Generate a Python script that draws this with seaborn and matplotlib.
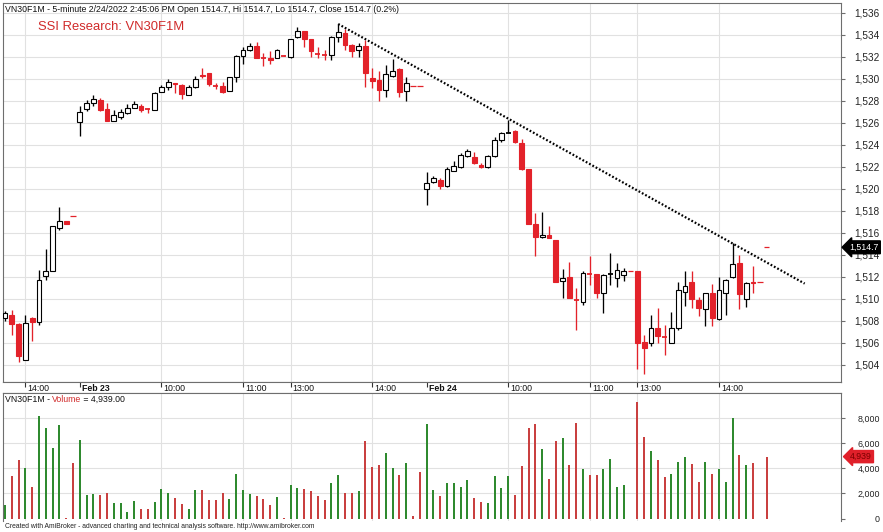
import numpy as np
import pandas as pd
import matplotlib
matplotlib.use("Agg")
import matplotlib.pyplot as plt
import seaborn as sns

# ---------------- data ----------------
opens = [1508.25, 1508.55, 1507.75, 1504.45, 1508.3, 1507.9, 1512.05, 1512.55, 1516.45, 1517.05, 1517.55,
         1526.1, 1527.25, 1527.8, 1528.1, 1527.3, 1526.2, 1526.5, 1526.9, 1527.4, 1527.5, 1527.3, 1527.2, 1528.85,
         1529.25, 1529.6, 1529.45, 1528.55, 1529.25, 1530.35, 1530.5, 1529.4, 1529.35, 1528.95, 1530.15, 1532.1,
         1532.6, 1533.0, 1531.97, 1531.95, 1531.95, 1532.15, 1532.0, 1533.8, 1534.35, 1533.6, 1532.35, 1532.25,
         1532.2, 1533.85, 1534.15, 1533.1, 1532.6, 1533.0, 1530.1, 1529.9, 1529.0, 1530.25, 1530.9, 1528.95,
         1529.4, 1529.4,
         1519.97, 1520.67, 1520.8, 1520.27, 1521.66, 1521.97, 1523.0, 1522.94, 1522.18, 1521.97, 1523.0, 1524.45,
         1525.1, 1525.3, 1524.15, 1521.8, 1516.8, 1515.6, 1515.8, 1515.36, 1511.6, 1512.03, 1510.0, 1509.75,
         1512.35, 1512.24, 1510.5, 1512.2, 1511.88, 1512.2, 1512.55, 1512.57, 1506.1, 1506.0, 1507.4, 1506.55,
         1506.0, 1507.33, 1510.65, 1511.57, 1509.9, 1509.05, 1510.5, 1508.15, 1510.57, 1511.97, 1513.3, 1509.97,
         1511.57, 1511.57, 1514.7]
highs = [1508.95, 1509.0, 1507.8, 1508.55, 1508.4, 1512.6, 1514.5, 1516.6, 1518.35, 1517.05, 1517.55,
         1527.5, 1528.1, 1528.5, 1528.3, 1527.85, 1527.2, 1527.3, 1527.7, 1528.0, 1527.75, 1527.35, 1528.85, 1529.45,
         1530.0, 1529.65, 1529.5, 1529.45, 1530.3, 1531.0, 1530.55, 1529.6, 1529.7, 1530.2, 1532.15, 1532.95,
         1533.3, 1533.4, 1532.4, 1532.5, 1532.7, 1532.15, 1533.65, 1534.75, 1534.4, 1533.6, 1532.9, 1532.6,
         1533.9, 1535.0, 1534.5, 1533.15, 1533.25, 1533.55, 1531.0, 1530.75, 1531.3, 1531.8, 1531.0, 1530.2,
         1529.4, 1529.4,
         1521.57, 1521.2, 1521.0, 1522.03, 1522.5, 1523.25, 1523.6, 1523.4, 1522.35, 1523.05, 1524.7, 1525.15,
         1526.3, 1525.35, 1524.5, 1521.8, 1517.8, 1517.94, 1516.6, 1515.36, 1512.7, 1513.4, 1511.0, 1512.5,
         1513.9, 1512.3, 1512.25, 1514.15, 1513.24, 1512.8, 1512.55, 1512.57, 1506.7, 1508.5, 1509.2, 1507.65,
         1508.8, 1511.57, 1512.55, 1512.5, 1510.2, 1510.55, 1511.36, 1511.97, 1511.8, 1515.06, 1514.0, 1511.55,
         1513.0, 1511.57, 1514.7]
lows = [1508.0, 1506.7, 1504.3, 1504.45, 1506.2, 1507.6, 1511.7, 1512.5, 1516.3, 1516.85, 1517.55,
        1524.8, 1527.1, 1527.5, 1527.1, 1526.15, 1526.15, 1526.4, 1526.85, 1527.35, 1527.0, 1526.9, 1527.15, 1528.8,
        1529.0, 1528.7, 1528.2, 1528.5, 1529.2, 1530.05, 1529.35, 1529.1, 1528.75, 1528.9, 1529.7, 1531.4,
        1532.5, 1531.9, 1531.2, 1531.4, 1531.9, 1532.1, 1531.95, 1533.75, 1532.9, 1532.0, 1531.95, 1531.7,
        1531.7, 1533.4, 1532.6, 1532.0, 1532.0, 1529.3, 1529.15, 1528.0, 1528.35, 1530.2, 1528.35, 1528.0,
        1529.4, 1529.4,
        1518.55, 1520.5, 1519.97, 1520.2, 1521.6, 1521.9, 1522.95, 1522.3, 1521.95, 1521.95, 1522.95, 1524.25,
        1525.05, 1524.2, 1521.75, 1516.8, 1513.9, 1515.55, 1515.5, 1511.55, 1510.06, 1510.1, 1507.2, 1509.45,
        1511.27, 1510.06, 1508.7, 1511.3, 1511.1, 1511.6, 1512.55, 1503.6, 1503.15, 1505.7, 1506.0, 1504.9,
        1506.0, 1507.2, 1509.4, 1509.15, 1508.45, 1507.5, 1507.5, 1508.1, 1508.55, 1511.9, 1509.05, 1509.25,
        1510.57, 1511.57, 1514.7]
closes = [1508.7, 1507.75, 1504.8, 1507.85, 1507.9, 1511.7, 1512.55, 1516.6, 1517.05, 1516.85, 1517.55,
          1527.0, 1527.8, 1528.15, 1527.2, 1526.2, 1526.7, 1527.0, 1527.4, 1527.7, 1527.2, 1527.25, 1528.7, 1529.25,
          1529.75, 1529.5, 1528.65, 1529.25, 1530.0, 1530.25, 1529.55, 1529.35, 1528.85, 1530.15, 1532.1, 1532.6,
          1533.0, 1531.95, 1531.93, 1531.75, 1532.65, 1532.1, 1533.6, 1534.35, 1533.6, 1532.5, 1532.3, 1532.2,
          1533.85, 1534.25, 1533.1, 1532.5, 1533.0, 1530.5, 1529.8, 1529.0, 1530.45, 1530.7, 1528.85, 1529.6,
          1529.4, 1529.4,
          1520.57, 1520.97, 1520.27, 1521.8, 1522.1, 1523.1, 1523.45, 1522.34, 1522.03, 1523.0, 1524.45, 1525.1,
          1525.1, 1524.3, 1521.8, 1516.8, 1515.6, 1515.8, 1515.55, 1511.57, 1511.94, 1510.12, 1509.95, 1512.4,
          1512.3, 1510.5, 1512.2, 1512.25, 1512.6, 1512.57, 1512.55, 1506.0, 1505.5, 1507.4, 1506.6, 1506.5,
          1507.33, 1510.8, 1511.15, 1509.97, 1509.15, 1510.5, 1508.25, 1510.8, 1511.73, 1513.2, 1510.45, 1511.43,
          1511.43, 1511.57, 1514.7]
volumes = [1100, 3400, 4700, 4000, 2500, 8200, 7200, 5600, 7450, 50, 4400,
           6250, 1900, 1950, 1900, 2070, 1260, 1260, 540, 1400, 780, 720, 1340, 2340, 2070, 1620, 1180, 780,
           2260, 2260, 1450, 1450, 2020, 1530, 3550, 2290, 1990, 1780, 1590, 1070, 1750, 30, 2690, 2400,
           2340, 2210, 1800, 1480, 2800, 3470, 2070, 2070, 2210, 6170, 4090, 4230, 5200, 4040, 3450, 4410,
           200, 3690,
           7540, 2260, 1800, 2850, 2830, 2480, 3100, 1640, 1290, 1210, 3370, 2400, 3420, 1890, 4200, 7190,
           7540, 5570, 3150, 6170, 6460, 4300, 7620, 3930, 3470, 3470, 3930, 4740, 2530, 2670, 0, 9320,
           6520, 5390, 4690, 3340, 3530, 4470, 4900, 4360, 2880, 4470, 3560, 3960, 2930, 8000, 5060, 4230,
           4410, 0, 4939]
tick_bars = [3, 11, 23, 35, 42, 54, 62, 74, 86, 93, 105]
tick_labels = ["14:00", "Feb 23", "10:00", "11:00", "13:00", "14:00", "Feb 24", "10:00", "11:00", "13:00", "14:00"]
day_start_bars = [11, 62]
trend_x = [49, 117.6]
trend_y = [1535.0, 1511.4]
price_ticks = list(range(1504, 1537, 2))
vol_ticks = [0, 2000, 4000, 6000, 8000]
last_close = 1514.7
last_volume = 4939
title_text = "VN30F1M - 5-minute 2/24/2022 2:45:06 PM Open 1514.7, Hi 1514.7, Lo 1514.7, Close 1514.7 (0.2%)"
brand_text = "SSI Research: VN30F1M"
vol_title_parts = ["VN30F1M - ", "Volume", " = 4,939.00"]
footer_text = "Created with AmiBroker - advanced charting and technical analysis software. http://www.amibroker.com"

# ---------------- style ----------------
sns.set_style("white")
plt.rcParams['font.family'] = ['Liberation Sans', 'DejaVu Sans']

RED = '#e3222a'
VRED = '#c94040'
VGREEN = '#2f8a2f'
GRID = '#e1e1e1'
SPINE = '#6e6e6e'

W, H = 883, 532
fig = plt.figure(figsize=(W / 100, H / 100), dpi=100)
fig.patch.set_facecolor('white')


def pax(x0, y0, x1, y1):
    return fig.add_axes([x0 / W, 1 - y1 / H, (x1 - x0) / W, (y1 - y0) / H])


def fx(px):
    return px / W


def fy(py):
    return 1 - py / H


XMIN, XMAX = (3 - 5) / 6.8, (841 - 5) / 6.8

df = pd.DataFrame({'i': np.arange(len(closes)), 'o': opens, 'h': highs, 'l': lows,
                   'c': closes, 'v': volumes})
df['up'] = (df['c'] > df['o']) | ((df['c'] == df['o']) & (df['h'] > df['l']))
df['dir'] = np.where(df['up'], 'up', 'down')
df['flat'] = df['h'] == df['l']

# ---------------- price panel ----------------
ax = pax(3, 3, 841, 382)
ax.set_xlim(XMIN, XMAX)
ax.set_ylim(1536 - (382 - 13) / 11, 1536 - (3 - 13) / 11)
for p in price_ticks:
    ax.axhline(p, color=GRID, lw=0.8, zorder=0)
for b, lab in zip(tick_bars, tick_labels):
    if b not in day_start_bars:
        ax.axvline(b, color=GRID, lw=0.8, zorder=0)

norm = df[~df['flat']]
for _, r in norm.iterrows():
    col = 'black' if r['up'] else RED
    ax.vlines(r['i'], r['l'], r['h'], color=col, lw=0.95, zorder=2)
    body = abs(r['c'] - r['o'])
    if body < 0.06:
        ax.hlines(r['c'], r['i'] - 0.36, r['i'] + 0.36, color=col, lw=1.3, zorder=3)
    else:
        ax.bar(r['i'], body, bottom=min(r['o'], r['c']), width=0.68,
               color='white' if r['up'] else RED, edgecolor=col, linewidth=0.8, zorder=3)
flat = df[df['flat']]
ax.hlines(flat['c'], flat['i'] - 0.42, flat['i'] + 0.42, color=RED, lw=0.9, zorder=3)

ax.plot(trend_x, trend_y, color='black', lw=1.6, linestyle=(0, (0.8, 0.9)), zorder=4)

ax.yaxis.tick_right()
ax.set_yticks(price_ticks)
ax.set_yticklabels([f"{p:,}" for p in price_ticks])
ax.tick_params(axis='y', direction='out', length=3, width=0.8, color=SPINE,
               labelsize=7.2, pad=25, labelcolor='#222222')
for t in ax.get_yticklabels():
    t.set_horizontalalignment('right')
ax.set_xticks([])
for s in ax.spines.values():
    s.set_color(SPINE)
    s.set_linewidth(0.8)

# ---------------- time strip ----------------
sx = pax(3, 382, 841, 393)
sx.set_xlim(XMIN, XMAX)
sx.set_ylim(0, 1)
sx.set_xticks([])
sx.set_yticks([])
for s in sx.spines.values():
    s.set_color(SPINE)
    s.set_linewidth(0.8)
sx.spines['left'].set_visible(False)
sx.spines['right'].set_visible(False)
for b, lab in zip(tick_bars, tick_labels):
    sx.vlines(b, 0.55, 1.0, color='#333333', lw=0.8)
    sx.text(b + 0.3, 0.45, lab, fontsize=6.3, va='center', ha='left',
            fontweight='bold' if b in day_start_bars else 'normal', color='#111111')

# ---------------- volume panel ----------------
vx = pax(3, 393, 841, 521)
sns.barplot(data=df, x='i', y='v', hue='dir', palette={'up': VGREEN, 'down': VRED},
            native_scale=True, width=0.32, dodge=False, legend=False, errorbar=None,
            saturation=1, linewidth=0, ax=vx)
vx.set_xlim(XMIN, XMAX)
vx.set_ylim(-(521 - 518.5) / 0.01253, (518.5 - 393) / 0.01253)
for v in vol_ticks[1:]:
    vx.axhline(v, color=GRID, lw=0.8, zorder=0)
for b in tick_bars:
    if b not in day_start_bars:
        vx.axvline(b, color=GRID, lw=0.8, zorder=0)
vx.set_xlabel('')
vx.set_ylabel('')
vx.set_xticks([])
vx.yaxis.tick_right()
vx.set_yticks(vol_ticks)
vx.set_yticklabels([f"{v:,}" for v in vol_ticks])
vx.tick_params(axis='y', direction='out', length=3, width=0.8, color=SPINE,
               labelsize=6.4, pad=25, labelcolor='#222222')
for t in vx.get_yticklabels():
    t.set_horizontalalignment('right')
for s in vx.spines.values():
    s.set_color(SPINE)
    s.set_linewidth(0.8)
vx.spines['bottom'].set_visible(False)

# ---------------- texts ----------------
fig.text(fx(5), fy(9.5), title_text, fontsize=6.3, va='center', ha='left', color='#111111')
fig.text(fx(38), fy(27), brand_text, fontsize=9.4, va='center', ha='left', color='#d02a2a')

fig.canvas.draw()
r = fig.canvas.get_renderer()
xcur = 5.0
for part, col in zip(vol_title_parts, ['#111111', '#d02a2a', '#111111']):
    t = fig.text(fx(xcur), fy(399), part, fontsize=6.3, va='center', ha='left', color=col)
    bb = t.get_window_extent(r)
    xcur = bb.x1 - 0.5

fig.text(fx(5), fy(527), footer_text, fontsize=4.85, va='center', ha='left', color='#222222')

# last value tags
py_last = 13 + (1536 - last_close) * 11
fig.text(fx(849), fy(py_last), f"{last_close:,.1f}", fontsize=6.3, va='center', ha='left',
         color='white', zorder=10,
         bbox=dict(boxstyle='larrow,pad=0.22', fc='black', ec='black'))
py_vol = 518.5 - last_volume * 0.01253
fig.text(fx(850), fy(py_vol), f"{last_volume:,}", fontsize=6.3, va='center', ha='left',
         color='#7a0000', zorder=10,
         bbox=dict(boxstyle='larrow,pad=0.18', fc='#e0202a', ec='#e0202a'))

fig.savefig('out.png', dpi=100, facecolor='white')
